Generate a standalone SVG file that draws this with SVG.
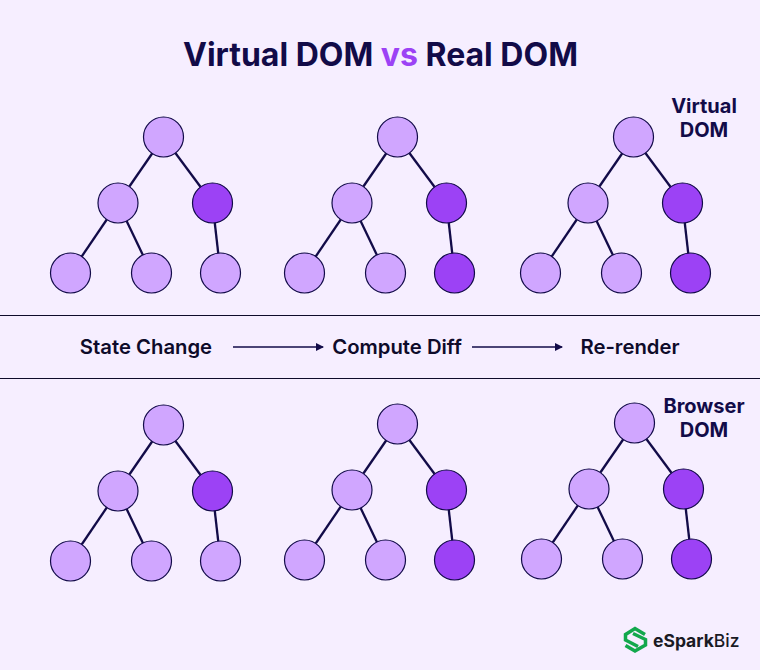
<svg xmlns="http://www.w3.org/2000/svg" width="760" height="670" viewBox="0 0 760 670">
<style>
text{font-family:Inter,"Liberation Sans",sans-serif}
.t{font-size:32px;font-weight:700;fill:#120b48}
.l{font-size:20px;font-weight:700;fill:#120b48;text-anchor:middle}
.s{font-size:20.300px;font-weight:600;fill:#0e0b2a;text-anchor:middle}
.e line{stroke:#120b48;stroke-width:2.300}
.a{fill:#d0a6ff;stroke:#120b48;stroke-width:1.200}
.b{fill:#9c42f5;stroke:#120b48;stroke-width:1.200}
</style>
<defs>
<marker id="ah" markerWidth="8" markerHeight="8" refX="7" refY="4" orient="auto" markerUnits="userSpaceOnUse"><path d="M0 0L8 4L0 8Z" fill="#120b48"/></marker>
<g id="edges" class="e"><line x1="163.5" y1="137" x2="118" y2="203"/><line x1="163.5" y1="137" x2="212.5" y2="203"/><line x1="118" y1="203" x2="70.5" y2="273"/><line x1="118" y1="203" x2="151.5" y2="273"/><line x1="212.5" y1="203" x2="220.5" y2="273"/></g>
</defs>
<rect width="760" height="670" fill="#f6eeff"/>
<text x="183" y="66" class="t">Virtual DOM <tspan fill="#9c42f5">vs</tspan> Real DOM</text>
<g id="connectors">
<use href="#edges"/>
<use href="#edges" x="234"/>
<use href="#edges" x="470"/>
<use href="#edges" y="288"/>
<use href="#edges" x="234" y="287"/>
<use href="#edges" x="471" y="286"/>
<line x1="233" y1="347" x2="323" y2="347" stroke="#120b48" stroke-width="1.4" marker-end="url(#ah)"/>
<line x1="472" y1="347" x2="562" y2="347" stroke="#120b48" stroke-width="1.4" marker-end="url(#ah)"/>
</g>
<line x1="0" y1="315.500" x2="760" y2="315.500" stroke="#0e0b2a"/>
<line x1="0" y1="378.500" x2="760" y2="378.500" stroke="#0e0b2a"/>
<g id="tree-v1"><circle class="a" cx="163.500" cy="137" r="20"/><circle class="a" cx="118" cy="203" r="20"/><circle class="b" cx="212.500" cy="203" r="20"/><circle class="a" cx="70.500" cy="273" r="20"/><circle class="a" cx="151.500" cy="273" r="20"/><circle class="a" cx="220.500" cy="273" r="20"/></g>
<g id="tree-v2"><circle class="a" cx="397.500" cy="137" r="20"/><circle class="a" cx="352" cy="203" r="20"/><circle class="b" cx="446.500" cy="203" r="20"/><circle class="a" cx="304.500" cy="273" r="20"/><circle class="a" cx="385.500" cy="273" r="20"/><circle class="b" cx="454.500" cy="273" r="20"/></g>
<g id="tree-v3"><circle class="a" cx="633.500" cy="137" r="20"/><circle class="a" cx="588" cy="203" r="20"/><circle class="b" cx="682.500" cy="203" r="20"/><circle class="a" cx="540.500" cy="273" r="20"/><circle class="a" cx="621.500" cy="273" r="20"/><circle class="b" cx="690.500" cy="273" r="20"/></g>
<g id="tree-b1"><circle class="a" cx="163.500" cy="425" r="20"/><circle class="a" cx="118" cy="491" r="20"/><circle class="b" cx="212.500" cy="491" r="20"/><circle class="a" cx="70.500" cy="561" r="20"/><circle class="a" cx="151.500" cy="561" r="20"/><circle class="a" cx="220.500" cy="561" r="20"/></g>
<g id="tree-b2"><circle class="a" cx="397.500" cy="424" r="20"/><circle class="a" cx="352" cy="490" r="20"/><circle class="b" cx="446.500" cy="490" r="20"/><circle class="a" cx="304.500" cy="560" r="20"/><circle class="a" cx="385.500" cy="560" r="20"/><circle class="b" cx="454.500" cy="560" r="20"/></g>
<g id="tree-b3"><circle class="a" cx="634.500" cy="423" r="20"/><circle class="a" cx="589" cy="489" r="20"/><circle class="b" cx="683.500" cy="489" r="20"/><circle class="a" cx="541.500" cy="559" r="20"/><circle class="a" cx="622.500" cy="559" r="20"/><circle class="b" cx="691.500" cy="559" r="20"/></g>
<text class="l" x="704" y="112.500">Virtual</text><text class="l" x="704" y="136.500">DOM</text>
<text class="l" x="704" y="412.500">Browser</text><text class="l" x="704" y="436.500">DOM</text>
<text class="s" x="146" y="354">State Change</text>
<text class="s" x="397" y="354">Compute Diff</text>
<text class="s" x="630" y="354">Re-render</text>
<g id="logo" fill="none" stroke="#12a84c" stroke-width="3.500">
<path d="M645 634.500L635 628.500L625.500 634.500V640L638 646.500"/>
<path d="M625.500 645.500L635 651L645.500 645V639.500L633 633.500"/>
<text x="653" y="647" font-size="17.500" font-weight="700" fill="#1a1a24" stroke="none">eSpark<tspan font-weight="500">Biz</tspan></text>
</g>
</svg>
